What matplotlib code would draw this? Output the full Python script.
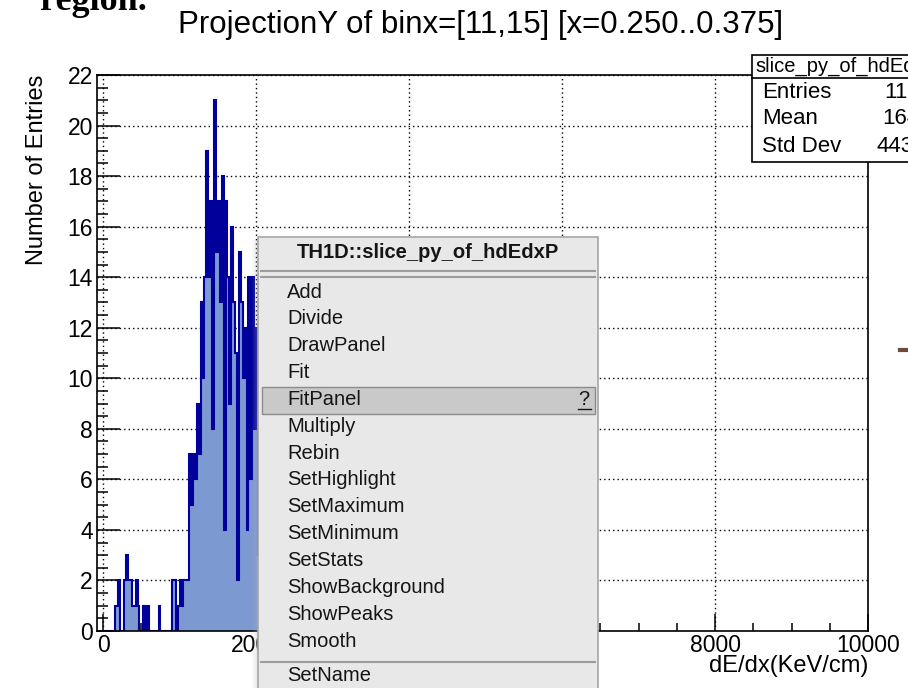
import numpy as np
import matplotlib
matplotlib.use("Agg")
import matplotlib.pyplot as plt
from matplotlib.patches import Rectangle

plt.rcParams['font.family'] = ['Liberation Sans', 'DejaVu Sans']

# dE/dx slice, 25 KeV/cm per bin starting at 0
bin_width = 25
counts = [0, 0, 0, 0, 0, 0, 1, 1, 2, 0,
          0, 2, 3, 2, 2, 1, 1, 2, 1, 0,
          0, 1, 0, 1, 0, 0, 0, 0, 0, 1,
          0, 0, 0, 0, 0, 0, 2, 2, 0, 1,
          2, 1, 2, 2, 2, 7, 5, 7, 6, 9,
          7, 13, 10, 14, 19, 14, 17, 8, 21, 15,
          17, 13, 18, 4, 17, 14, 9, 16, 13, 11,
          2, 15, 13, 10, 12, 4, 14, 6, 14, 8,
          12, 3, 10, 7, 9, 6, 8, 5, 7, 4,
          6, 3, 5, 2, 4, 2, 3, 1, 2, 1]
edges = np.arange(len(counts) + 1) * bin_width

x_major = [0, 2000, 4000, 6000, 8000, 10000]
y_major = list(range(0, 23, 2))

hist_title = "ProjectionY of binx=[11,15] [x=0.250..0.375]"
x_title = "dE/dx(KeV/cm)"
y_title = "Number of Entries"

stats_name = "slice_py_of_hdEdxP"
stats_labels = ["Entries", "Mean", "Std Dev"]
stats_values = ["1150", "1642", "443.2"]

menu_title = "TH1D::slice_py_of_hdEdxP"
menu_items = ["Add", "Divide", "DrawPanel", "Fit", "FitPanel", "Multiply",
              "Rebin", "SetHighlight", "SetMaximum", "SetMinimum", "SetStats",
              "ShowBackground", "ShowPeaks", "Smooth"]
menu_items_after = ["SetName"]
menu_selected = "FitPanel"

W, H = 908, 688
fig = plt.figure(figsize=(W / 100, H / 100), dpi=100)
fig.patch.set_facecolor("white")

# histogram pad
ax = fig.add_axes([97 / W, 1 - 631 / H, 771 / W, 556 / H])
ax.set_axisbelow(True)
ax.stairs(counts, edges, fill=True, color="#7d99d1", lw=0)
ax.stairs(counts, edges, color="#00009a", lw=1.5)
ax.set_xlim(-80, 10000)
ax.set_ylim(0, 22)
ax.set_xticks(x_major)
ax.set_xticks(np.arange(0, 10001, 500), minor=True)
ax.set_yticks(y_major)
ax.set_yticks(np.arange(0, 22.01, 0.5), minor=True)
ax.tick_params(which="both", direction="in", top=False, right=False, width=1.1)
ax.tick_params(axis="x", which="major", length=12.5, labelsize=16.5, pad=2.5)
ax.tick_params(axis="x", which="minor", length=6)
ax.tick_params(axis="y", which="major", length=16.5, labelsize=16.5, pad=3)
ax.tick_params(axis="y", which="minor", length=8)
ax.grid(True, which="major", color="black", linestyle=(0, (1, 2.2)), lw=1)
for sp in ax.spines.values():
    sp.set_linewidth(1.2)

# overlay in pixel units for titles, stats box and popup menu
ov = fig.add_axes([0, 0, 1, 1], zorder=10)
ov.set_xlim(0, W)
ov.set_ylim(H, 0)
ov.axis("off")
ov.patch.set_visible(False)

ov.text(40, 10, "region.", family=["Liberation Serif", "DejaVu Serif"],
        fontsize=26, fontweight="bold", va="baseline", ha="left")
ov.text(481, 25, hist_title, ha="center", va="center", fontsize=22.5)
ov.text(868, 666, x_title, ha="right", va="center", fontsize=17)
ov.text(37, 75, y_title, rotation=90, rotation_mode="anchor",
        ha="right", va="center", fontsize=17)

# stats box
ov.add_patch(Rectangle((752, 55), 200, 107, fc="white", ec="black", lw=1.2))
ov.plot([752, 952], [78, 78], color="black", lw=1.2)
ov.text(755, 66.5, stats_name, ha="left", va="center", fontsize=14.5)
for i, (lab, val) in enumerate(zip(stats_labels, stats_values)):
    yy = 92 + i * 27
    ov.text(762, yy, lab, ha="left", va="center", fontsize=16)
    ov.text(932, yy, val, ha="right", va="center", fontsize=16)

ov.plot([900, 908], [350, 350], color="#6b4c3b", lw=3)

# context menu with a soft shadow on its left edge
for k in range(6):
    ov.add_patch(Rectangle((252 + k, 240), 1, 460, fc="#b0b0b0", ec="none",
                           alpha=0.05 * (k + 1)))
ov.add_patch(Rectangle((258, 237), 340, 480, fc="#e8e8e8", ec="#a6a6a6", lw=1.2))
ov.text(428, 253, menu_title, ha="center", va="center", fontsize=14.5,
        fontweight="bold", color="#151515")
for yy in (271, 277):
    ov.plot([261, 595], [yy, yy], color="#9c9c9c", lw=1.5)

step = 26.85
y0 = 292
for i, item in enumerate(menu_items):
    yy = y0 + i * step
    if item == menu_selected:
        ov.add_patch(Rectangle((262, yy - 12), 333, 27, fc="#c9c9c9",
                               ec="#8c8c8c", lw=1))
        ov.text(584, yy, "?", ha="center", va="center", fontsize=14.5,
                color="#151515")
        ov.plot([578, 591], [yy + 10, yy + 10], color="#151515", lw=1)
    ov.text(287, yy, item, ha="left", va="center", fontsize=14.5, color="#151515")

y_sep = y0 + (len(menu_items) - 0.22) * step
ov.plot([261, 595], [y_sep, y_sep], color="#9c9c9c", lw=1.5)
for j, item in enumerate(menu_items_after):
    yy = y0 + (len(menu_items) + 0.3 + j) * step
    ov.text(287, yy, item, ha="left", va="center", fontsize=14.5, color="#151515")

fig.savefig("out.png", dpi=100)
